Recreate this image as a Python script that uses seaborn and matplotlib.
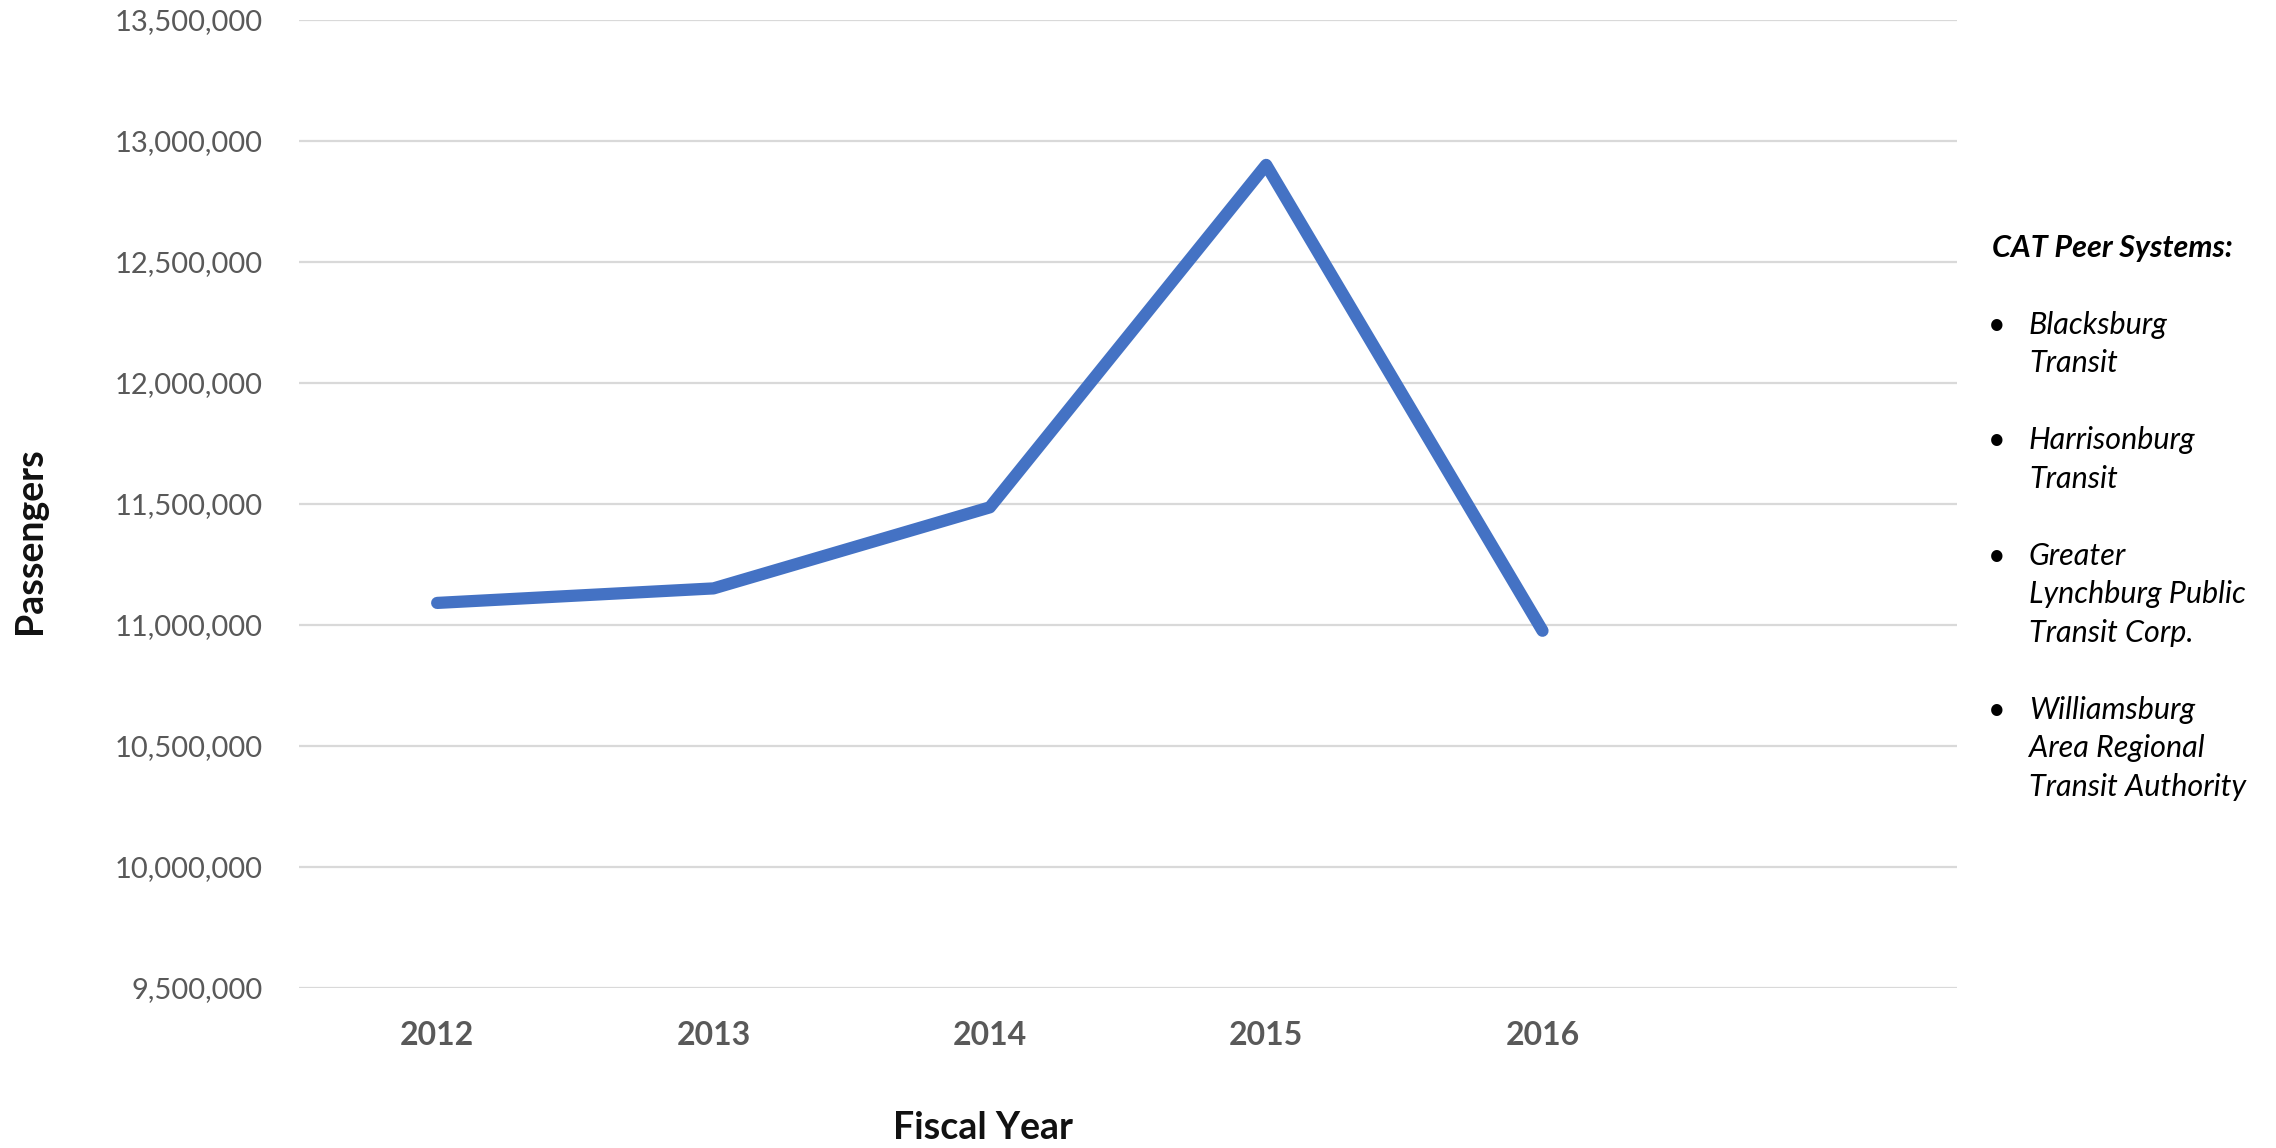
import matplotlib
matplotlib.use("Agg")
import matplotlib.pyplot as plt
import matplotlib.ticker as mticker
import pandas as pd
import seaborn as sns

# Annual ridership of CAT peer systems by fiscal year
years = ["2012", "2013", "2014", "2015", "2016"]
passengers = [11_090_000, 11_150_000, 11_485_000, 12_900_000, 10_975_000]

y_ticks = [9_500_000, 10_000_000, 10_500_000, 11_000_000, 11_500_000,
           12_000_000, 12_500_000, 13_000_000, 13_500_000]

peer_title = "CAT Peer Systems:"
peer_systems = [
    ["Blacksburg", "Transit"],
    ["Harrisonburg", "Transit"],
    ["Greater", "Lynchburg Public", "Transit Corp."],
    ["Williamsburg", "Area Regional", "Transit Authority"],
]

sns.set_theme(style="white")
plt.rcParams["font.family"] = ["Lato", "DejaVu Sans"]

W, H = 2276, 1148
fig = plt.figure(figsize=(W / 100, H / 100), dpi=100)
left, right, top, bottom = 299, 1957, 19.7, 987.7
ax = fig.add_axes([left / W, 1 - bottom / H, (right - left) / W, (bottom - top) / H])

df = pd.DataFrame({"Fiscal Year": years, "Passengers": passengers})
sns.lineplot(data=df, x="Fiscal Year", y="Passengers", ax=ax, sort=False,
             color="#4472C4", linewidth=8.8,
             solid_capstyle="round", solid_joinstyle="round")

ax.set_xlim(-0.5, 5.5)
ax.set_ylim(y_ticks[0], y_ticks[-1])
ax.set_yticks(y_ticks)
ax.yaxis.set_major_formatter(mticker.FuncFormatter(lambda v, p: f"{int(v):,}"))
ax.grid(axis="y", color="#D9D9D9", linewidth=1.6)
ax.set_axisbelow(True)
for s in ax.spines.values():
    s.set_visible(False)

ax.tick_params(axis="y", length=0, pad=26, labelsize=21, labelcolor="#595959")
ax.tick_params(axis="x", length=0, pad=24, labelsize=23, labelcolor="#595959")
for lbl in ax.get_xticklabels():
    lbl.set_fontweight("bold")

ax.set_xlabel("Fiscal Year", fontsize=27, fontweight="bold", color="#111111")
ax.xaxis.set_label_coords((983 - left) / (right - left), -(1128 - bottom) / (bottom - top),
                          transform=ax.transAxes)
ax.xaxis.label.set_va("center")
ax.set_ylabel("Passengers", fontsize=27, fontweight="bold", color="#111111")
ax.yaxis.set_label_coords(-(left - 30) / (right - left), 1 - (541 - top) / (bottom - top))
ax.yaxis.label.set_va("center")

# Side note listing the peer systems
fig.text(1992 / W, 1 - 248 / H, peer_title, fontsize=22, fontweight="bold",
         fontstyle="italic", color="black", va="center", ha="left")
line_gap = 38.5
group_starts = [325, 440, 556, 710]
for start, lines in zip(group_starts, peer_systems):
    fig.text(1997 / W, 1 - start / H, "\u2022", fontsize=22, color="black",
             va="center", ha="center")
    for i, line in enumerate(lines):
        fig.text(2029 / W, 1 - (start + i * line_gap) / H, line, fontsize=22,
                 fontstyle="italic", color="black", va="center", ha="left")

fig.savefig("out.png", dpi=100, facecolor="white")
